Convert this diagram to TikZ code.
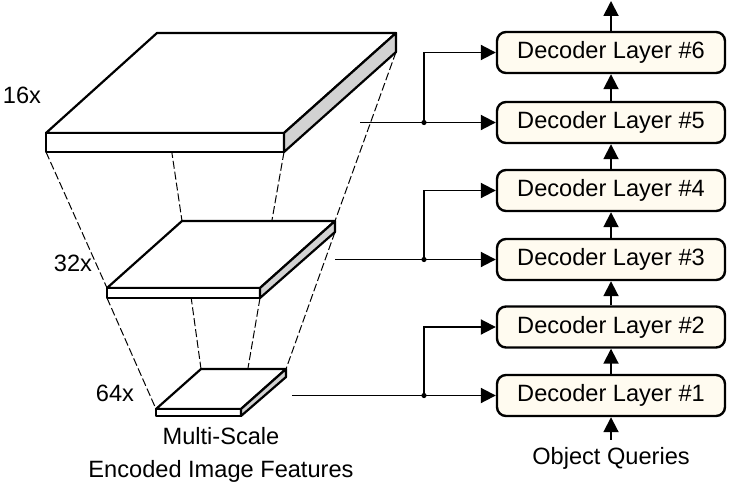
\documentclass[tikz,border=0pt]{standalone}
\usepackage{fontspec}
\setmainfont{Liberation Sans}
\usepackage{tikz}
\usetikzlibrary{arrows.meta}
\definecolor{layerfill}{RGB}{255,251,240}
\definecolor{slabside}{RGB}{210,210,210}

\begin{document}
\begin{tikzpicture}[x=0.5pt,y=-0.5pt]
    \tikzstyle{every node}+=[font=\fontsize{11.8}{16.5}\selectfont]
    \tikzstyle{layer}=[draw,rounded corners=4.5pt,fill=layerfill,line width=1.2pt,minimum width=114pt,minimum height=20.5pt,inner sep=0pt]
    \tikzstyle{feed}=[line width=0.95pt,-{Triangle[length=7.5pt,width=7.5pt]}]
    \tikzstyle{proj}=[dash pattern=on 4pt off 1.5pt,line width=0.5pt]
    \tikzstyle{slab}=[line width=1.1pt,line join=round]
    \useasboundingbox (0,0) rectangle (731,481);
    % projection lines between the scales
    \draw [proj] (46,152) -- (107,288);
    \draw [proj] (157,52) -- (182,221);
    \draw [proj] (284,152) -- (260,288);
    \draw [proj] (396,52) -- (335,221);
    \draw [proj] (107,298) -- (156,409);
    \draw [proj] (182,231) -- (201,369);
    \draw [proj] (260,298) -- (241,409);
    \draw [proj] (335,232) -- (286,369);
    % 16x
    \draw [slab,fill=white] (46,133) -- (157,33) -- (396,33) -- (284,133) -- cycle;
    \draw [slab,fill=white] (46,133) rectangle (284,152);
    \draw [slab,fill=slabside] (284,133) -- (396,33) -- (396,52) -- (284,152) -- cycle;
    % 32x
    \draw [slab,fill=white] (107,288) -- (182,221) -- (335,221) -- (260,288) -- cycle;
    \draw [slab,fill=white] (107,288) rectangle (260,298);
    \draw [slab,fill=slabside] (260,288) -- (335,221) -- (335,232) -- (260,298) -- cycle;
    % 64x
    \draw [slab,fill=white] (156,409) -- (201,369) -- (286,369) -- (241,409) -- cycle;
    \draw [slab,fill=white] (156,409) rectangle (241,416);
    \draw [slab,fill=slabside] (241,409) -- (286,369) -- (286,377) -- (241,416) -- cycle;
    \node (s16) at (22,95) {16x};
    \node (s32) at (73,263) {32x};
    \node (s64) at (115,393) {64x};
    \node [align=center] (feat) at (221,455) {Multi-Scale\\Encoded Image Features};
    % decoder stack
    \node [layer] (L1) at (611,395.5) {Decoder Layer \#1};
    \node [layer] (L2) at (611,327) {Decoder Layer \#2};
    \node [layer] (L3) at (611,259.5) {Decoder Layer \#3};
    \node [layer] (L4) at (611,190.5) {Decoder Layer \#4};
    \node [layer] (L5) at (611,122.5) {Decoder Layer \#5};
    \node [layer] (L6) at (611,52.5) {Decoder Layer \#6};
    \node (oq) at (611,458) {Object Queries};
    \coordinate (out) at (611,1);
    \draw [feed] (oq) -- (L1);
    \draw [feed] (L1) -- (L2);
    \draw [feed] (L2) -- (L3);
    \draw [feed] (L3) -- (L4);
    \draw [feed] (L4) -- (L5);
    \draw [feed] (L5) -- (L6);
    \draw [feed] (L6) -- (out);
    % features into the layers
    \coordinate (f16) at (360,122.5);
    \coordinate (j16) at (424,122.5);
    \coordinate (f32) at (335,259.5);
    \coordinate (j32) at (424,259.5);
    \coordinate (f64) at (292,395.5);
    \coordinate (j64) at (424,395.5);
    \draw [feed] (f16) -- (L5.west);
    \draw [feed] (j16) |- (L6.west);
    \draw [feed] (f32) -- (L3.west);
    \draw [feed] (j32) |- (L4.west);
    \draw [feed] (f64) -- (L1.west);
    \draw [feed] (j64) |- (L2.west);
    \fill (j16) circle (1.3pt);
    \fill (j32) circle (1.3pt);
    \fill (j64) circle (1.3pt);
\end{tikzpicture}
\end{document}
